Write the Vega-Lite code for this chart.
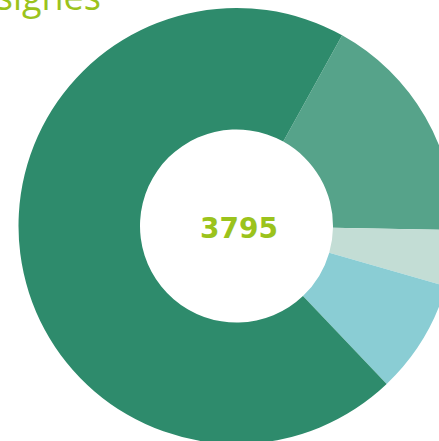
{
  "$schema": "https://vega.github.io/schema/vega-lite/v6.json",
  "width": 473,
  "height": 452,
  "autosize": "none",
  "padding": {"left": 0, "top": 0, "right": -34, "bottom": -11},
  "background": "white",
  "data": {"values": [
    {"segment": "B", "value": 654, "k": 1},
    {"segment": "C", "value": 158, "k": 2},
    {"segment": "D", "value": 321, "k": 3},
    {"segment": "A", "value": 2662, "k": 4}
  ]},
  "title": {"text": "Consignes", "anchor": "start", "align": "right", "dx": 101, "offset": 0, "dy": 46, "baseline": "alphabetic", "font": "Open Sans", "fontSize": 36, "fontWeight": 500, "color": "#9BC31C"},
  "layer": [
    {
      "mark": {"type": "arc", "innerRadius": 96.5, "outerRadius": 218},
      "encoding": {
        "theta": {"field": "value", "type": "quantitative", "stack": true, "scale": {"range": [0.506, 6.789]}},
        "color": {"field": "segment", "type": "nominal", "scale": {"domain": ["A", "B", "C", "D"], "range": ["#2E8B6C", "#56A38A", "#C3DDD5", "#8ACDD4"]}, "legend": null},
        "order": {"field": "k", "type": "ordinal"}
      }
    },
    {
      "transform": [{"aggregate": [{"op": "sum", "field": "value", "as": "total"}]}],
      "mark": {"type": "text", "font": "DejaVu Sans", "fontWeight": "bold", "fontSize": 28, "baseline": "alphabetic", "dx": 2.5, "dy": 12, "color": "#9BC31C"},
      "encoding": {"text": {"field": "total", "type": "quantitative", "format": "d"}}
    }
  ],
  "config": {"view": {"stroke": null}}
}
